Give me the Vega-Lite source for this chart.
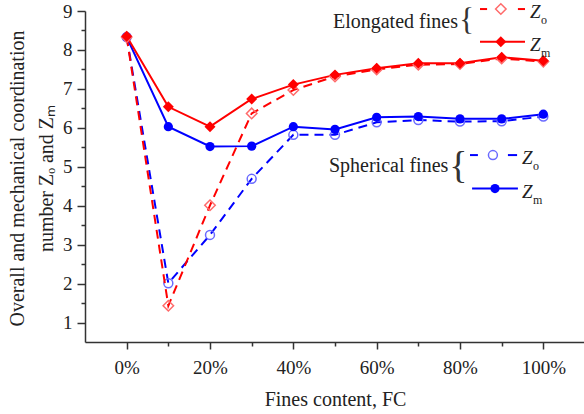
{
  "$schema": "https://vega.github.io/schema/vega-lite/v6.json",
  "width": 500,
  "height": 331,
  "autosize": {"type": "none"},
  "padding": {"left": 85, "top": 11, "right": 0, "bottom": 72},
  "background": "white",
  "config": {
    "view": {"stroke": null},
    "axis": {
      "labelFont": "Liberation Serif",
      "titleFont": "Liberation Serif",
      "labelFontSize": 19,
      "titleFontSize": 20,
      "titleFontWeight": "normal",
      "labelColor": "#222",
      "titleColor": "#222",
      "domainColor": "#333",
      "tickColor": "#333",
      "domainWidth": 1.5,
      "tickWidth": 1.5,
      "grid": false
    },
    "text": {"font": "Liberation Serif", "color": "#222"}
  },
  "datasets": {
    "main": [
      {"fc": 0, "fines": "Elongated", "Z": "Zo", "v": 8.33},
      {"fc": 10, "fines": "Elongated", "Z": "Zo", "v": 1.43},
      {"fc": 20, "fines": "Elongated", "Z": "Zo", "v": 4.01},
      {"fc": 30, "fines": "Elongated", "Z": "Zo", "v": 6.37},
      {"fc": 40, "fines": "Elongated", "Z": "Zo", "v": 6.97},
      {"fc": 50, "fines": "Elongated", "Z": "Zo", "v": 7.32},
      {"fc": 60, "fines": "Elongated", "Z": "Zo", "v": 7.5},
      {"fc": 70, "fines": "Elongated", "Z": "Zo", "v": 7.62},
      {"fc": 80, "fines": "Elongated", "Z": "Zo", "v": 7.64},
      {"fc": 90, "fines": "Elongated", "Z": "Zo", "v": 7.78},
      {"fc": 100, "fines": "Elongated", "Z": "Zo", "v": 7.7},
      {"fc": 0, "fines": "Elongated", "Z": "Zm", "v": 8.35},
      {"fc": 10, "fines": "Elongated", "Z": "Zm", "v": 6.54},
      {"fc": 20, "fines": "Elongated", "Z": "Zm", "v": 6.03},
      {"fc": 30, "fines": "Elongated", "Z": "Zm", "v": 6.74},
      {"fc": 40, "fines": "Elongated", "Z": "Zm", "v": 7.11},
      {"fc": 50, "fines": "Elongated", "Z": "Zm", "v": 7.36},
      {"fc": 60, "fines": "Elongated", "Z": "Zm", "v": 7.53},
      {"fc": 70, "fines": "Elongated", "Z": "Zm", "v": 7.66},
      {"fc": 80, "fines": "Elongated", "Z": "Zm", "v": 7.66},
      {"fc": 90, "fines": "Elongated", "Z": "Zm", "v": 7.81},
      {"fc": 100, "fines": "Elongated", "Z": "Zm", "v": 7.72},
      {"fc": 0, "fines": "Spherical", "Z": "Zo", "v": 8.33},
      {"fc": 10, "fines": "Spherical", "Z": "Zo", "v": 2.01},
      {"fc": 20, "fines": "Spherical", "Z": "Zo", "v": 3.25},
      {"fc": 30, "fines": "Spherical", "Z": "Zo", "v": 4.69},
      {"fc": 40, "fines": "Spherical", "Z": "Zo", "v": 5.82},
      {"fc": 50, "fines": "Spherical", "Z": "Zo", "v": 5.82},
      {"fc": 60, "fines": "Spherical", "Z": "Zo", "v": 6.14},
      {"fc": 70, "fines": "Spherical", "Z": "Zo", "v": 6.2},
      {"fc": 80, "fines": "Spherical", "Z": "Zo", "v": 6.16},
      {"fc": 90, "fines": "Spherical", "Z": "Zo", "v": 6.17},
      {"fc": 100, "fines": "Spherical", "Z": "Zo", "v": 6.29},
      {"fc": 0, "fines": "Spherical", "Z": "Zm", "v": 8.33},
      {"fc": 10, "fines": "Spherical", "Z": "Zm", "v": 6.03},
      {"fc": 20, "fines": "Spherical", "Z": "Zm", "v": 5.52},
      {"fc": 30, "fines": "Spherical", "Z": "Zm", "v": 5.53},
      {"fc": 40, "fines": "Spherical", "Z": "Zm", "v": 6.03},
      {"fc": 50, "fines": "Spherical", "Z": "Zm", "v": 5.96},
      {"fc": 60, "fines": "Spherical", "Z": "Zm", "v": 6.27},
      {"fc": 70, "fines": "Spherical", "Z": "Zm", "v": 6.29},
      {"fc": 80, "fines": "Spherical", "Z": "Zm", "v": 6.23},
      {"fc": 90, "fines": "Spherical", "Z": "Zm", "v": 6.23},
      {"fc": 100, "fines": "Spherical", "Z": "Zm", "v": 6.35},
      {"fc": 89.8, "fines": "Elongated", "Z": "Zo", "v": 9.05, "leg": true},
      {"fc": 89.8, "fines": "Elongated", "Z": "Zm", "v": 8.21, "leg": true},
      {"fc": 87.9, "fines": "Spherical", "Z": "Zo", "v": 5.3, "leg": true},
      {"fc": 88.4, "fines": "Spherical", "Z": "Zm", "v": 4.44, "leg": true}
    ],
    "legLines": [
      {"x": 84.8, "x2": 86.5, "y": 9.05, "fines": "Elongated"},
      {"x": 93.9, "x2": 95.6, "y": 9.05, "fines": "Elongated"},
      {"x": 84.8, "x2": 95.6, "y": 8.21, "fines": "Elongated"},
      {"x": 82.4, "x2": 84.3, "y": 5.3, "fines": "Spherical"},
      {"x": 91.5, "x2": 93.7, "y": 5.3, "fines": "Spherical"},
      {"x": 82.9, "x2": 93.9, "y": 4.44, "fines": "Spherical"}
    ],
    "legText": [
      {"kind": "label", "x": 79.5, "y": 8.56, "t": "Elongated fines"},
      {"kind": "label", "x": 77.2, "y": 4.86, "t": "Spherical fines"},
      {"kind": "braceE", "x": 81.6, "y": 8.74, "t": "{"},
      {"kind": "braceS", "x": 79.6, "y": 5.0, "t": "{"},
      {"kind": "Z", "x": 96.8, "y": 9.05, "t": "Z", "s": "o"},
      {"kind": "Z", "x": 96.8, "y": 8.21, "t": "Z", "s": "m"},
      {"kind": "Z", "x": 94.9, "y": 5.3, "t": "Z", "s": "o"},
      {"kind": "Z", "x": 94.9, "y": 4.44, "t": "Z", "s": "m"}
    ]
  },
  "encoding": {
    "x": {
      "field": "fc", "type": "quantitative",
      "scale": {"domain": [-10, 110], "nice": false, "zero": false},
      "axis": {
        "values": [0, 10, 20, 30, 40, 50, 60, 70, 80, 90, 100],
        "labelExpr": "datum.value % 20 === 0 ? datum.value + '%' : ''",
        "labelFont": "Liberation Serif",
        "labelFontSize": 19,
        "tickSize": {"condition": {"test": "datum.value % 20 === 0", "value": 7}, "value": 4},
        "labelBaseline": "alphabetic",
        "labelPadding": 24,
        "title": "Fines content, FC",
        "titleFont": "Liberation Serif",
        "titleBaseline": "alphabetic",
        "titleY": 63,
        "encode": {"labels": {"update": {"font": {"value": "Liberation Serif"}}}}
      }
    },
    "y": {
      "field": "v", "type": "quantitative",
      "scale": {"domain": [0.5, 9], "nice": false, "zero": false},
      "axis": {
        "values": [1, 1.5, 2, 2.5, 3, 3.5, 4, 4.5, 5, 5.5, 6, 6.5, 7, 7.5, 8, 8.5, 9],
        "labelExpr": "datum.value % 1 === 0 ? datum.value : ''",
        "labelFont": "Liberation Serif",
        "labelFontSize": 19,
        "tickSize": {"condition": {"test": "datum.value % 1 === 0", "value": 8}, "value": 4},
        "labelPadding": 5,
        "title": ["Overall and mechanical coordination", "number Zₒ and Zₘ"],
        "titleFont": "Liberation Serif",
        "titleAngle": -90,
        "titleAlign": "center",
        "titleBaseline": "alphabetic",
        "titleLineHeight": 29,
        "titleX": -62,
        "titleY": 167,
        "encode": {"labels": {"update": {"font": {"value": "Liberation Serif"}}}}
      }
    }
  },
  "layer": [
    {
      "data": {"name": "main"},
      "transform": [{"filter": "!datum.leg && datum.fines === 'Spherical' && datum.Z === 'Zo'"}],
      "mark": {"type": "line", "color": "#0000ff", "strokeWidth": 2, "strokeDash": [9, 6]}
    },
    {
      "data": {"name": "main"},
      "transform": [{"filter": "!datum.leg && datum.fines === 'Spherical' && datum.Z === 'Zm'"}],
      "mark": {"type": "line", "color": "#0000ff", "strokeWidth": 2}
    },
    {
      "data": {"name": "main"},
      "transform": [{"filter": "datum.fines === 'Spherical' && datum.Z === 'Zo'"}],
      "mark": {"type": "point", "shape": "circle", "filled": false, "stroke": "#6a6aff", "strokeWidth": 1.5, "size": 80, "opacity": 1}
    },
    {
      "data": {"name": "main"},
      "transform": [{"filter": "datum.fines === 'Spherical' && datum.Z === 'Zm'"}],
      "mark": {"type": "point", "shape": "circle", "filled": true, "color": "#0000ff", "size": 85, "opacity": 1}
    },
    {
      "data": {"name": "main"},
      "transform": [{"filter": "!datum.leg && datum.fines === 'Elongated' && datum.Z === 'Zo'"}],
      "mark": {"type": "line", "color": "#ff0000", "strokeWidth": 2, "strokeDash": [9, 6]}
    },
    {
      "data": {"name": "main"},
      "transform": [{"filter": "!datum.leg && datum.fines === 'Elongated' && datum.Z === 'Zm'"}],
      "mark": {"type": "line", "color": "#ff0000", "strokeWidth": 2}
    },
    {
      "data": {"name": "main"},
      "transform": [{"filter": "datum.fines === 'Elongated' && datum.Z === 'Zo'"}],
      "mark": {"type": "point", "shape": "diamond", "filled": false, "stroke": "#ff6a6a", "strokeWidth": 1.5, "size": 110, "opacity": 1}
    },
    {
      "data": {"name": "main"},
      "transform": [{"filter": "datum.fines === 'Elongated' && datum.Z === 'Zm'"}],
      "mark": {"type": "point", "shape": "diamond", "filled": true, "color": "#ff0000", "size": 120, "opacity": 1}
    },
    {
      "data": {"name": "legLines"},
      "mark": {"type": "rule", "strokeWidth": 2},
      "encoding": {
        "x": {"field": "x", "type": "quantitative"},
        "x2": {"field": "x2"},
        "y": {"field": "y", "type": "quantitative"},
        "color": {"field": "fines", "type": "nominal", "scale": {"domain": ["Elongated", "Spherical"], "range": ["#ff0000", "#0000ff"]}, "legend": null}
      }
    },
    {
      "data": {"name": "legText"},
      "transform": [{"filter": "datum.kind === 'label'"}],
      "mark": {"type": "text", "fontSize": 20, "align": "right", "baseline": "alphabetic"},
      "encoding": {
        "x": {"field": "x", "type": "quantitative"},
        "y": {"field": "y", "type": "quantitative"},
        "text": {"field": "t"}
      }
    },
    {
      "data": {"name": "legText"},
      "transform": [{"filter": "datum.kind === 'braceE'"}],
      "mark": {"type": "text", "fontSize": 31, "align": "center", "baseline": "middle", "color": "#333"},
      "encoding": {
        "x": {"field": "x", "type": "quantitative"},
        "y": {"field": "y", "type": "quantitative"},
        "text": {"field": "t"}
      }
    },
    {
      "data": {"name": "legText"},
      "transform": [{"filter": "datum.kind === 'braceS'"}],
      "mark": {"type": "text", "fontSize": 38, "align": "center", "baseline": "middle", "color": "#333"},
      "encoding": {
        "x": {"field": "x", "type": "quantitative"},
        "y": {"field": "y", "type": "quantitative"},
        "text": {"field": "t"}
      }
    },
    {
      "data": {"name": "legText"},
      "transform": [{"filter": "datum.kind === 'Z'"}],
      "mark": {"type": "text", "fontSize": 19, "fontStyle": "italic", "align": "left", "baseline": "alphabetic", "dy": 9},
      "encoding": {
        "x": {"field": "x", "type": "quantitative"},
        "y": {"field": "y", "type": "quantitative"},
        "text": {"field": "t"}
      }
    },
    {
      "data": {"name": "legText"},
      "transform": [{"filter": "datum.kind === 'Z'"}],
      "mark": {"type": "text", "fontSize": 12, "align": "left", "baseline": "alphabetic", "dx": 11, "dy": 15},
      "encoding": {
        "x": {"field": "x", "type": "quantitative"},
        "y": {"field": "y", "type": "quantitative"},
        "text": {"field": "s"}
      }
    }
  ]
}
